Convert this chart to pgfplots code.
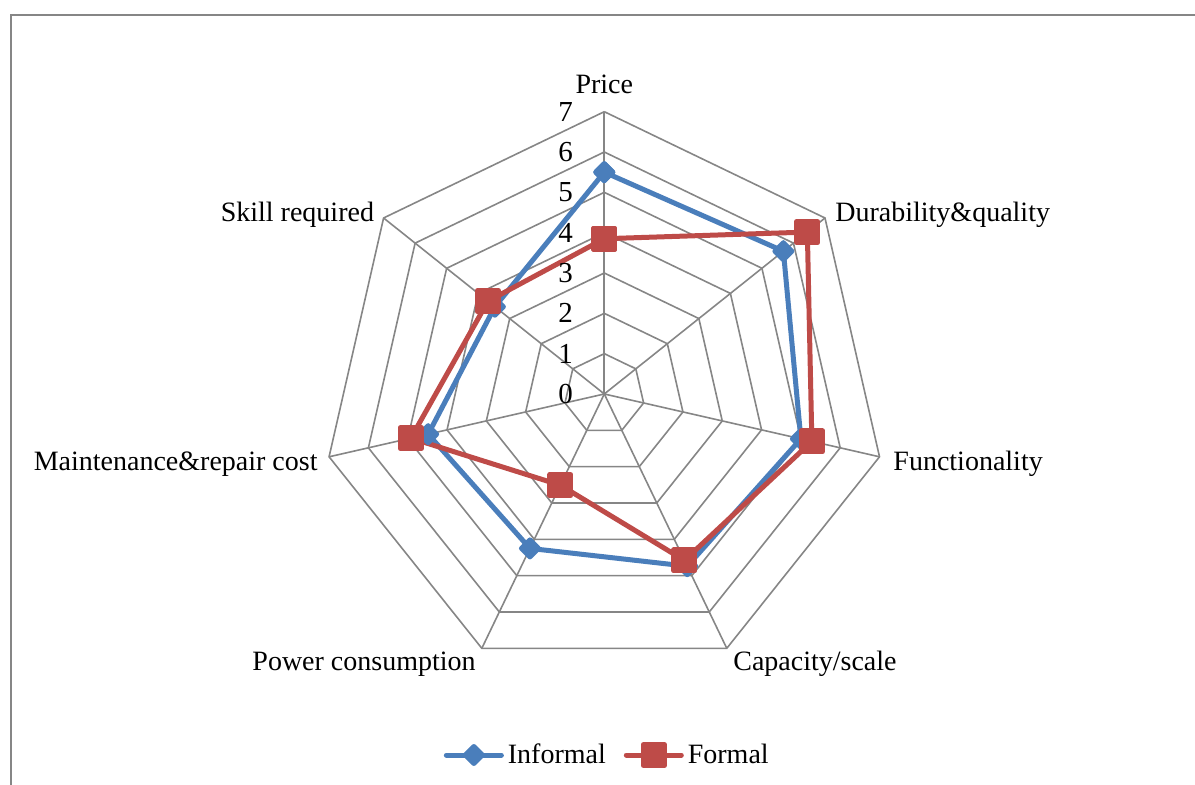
\documentclass[border=0pt]{standalone}
\usepackage{fontspec}
\setmainfont{Liberation Serif}
\usepackage{pgfplots}
\pgfplotsset{compat=1.18}
\definecolor{infc}{RGB}{74,126,187}
\definecolor{forc}{RGB}{190,75,72}
\definecolor{gridc}{RGB}{134,134,134}
\newcommand{\lf}{\fontsize{14}{17}\selectfont}
\begin{document}
\begin{tikzpicture}
\begin{axis}[
  x=20.164pt, y=20.164pt,
  xmin=-7.5, xmax=7.5, ymin=-7.5, ymax=7.5,
  hide axis, clip=false,
  legend columns=2,
  legend style={draw=none, fill=none, font=\lf, at={(axis description cs:0.5066,-0.0968)}, anchor=center,
    /tikz/every even column/.append style={column sep=7pt}},
  legend image code/.code={\draw[mark repeat=2, mark phase=2] plot coordinates {(0pt,0pt) (13.75pt,0pt) (27.5pt,0pt)};},
]
\pgfplotsinvokeforeach{1,...,7}{
  \addplot[gridc, line width=0.8pt, data cs=polar, forget plot, mark=none]
    coordinates {(90,#1) (38.571,#1) (-12.857,#1) (-64.286,#1) (-115.714,#1) (-167.143,#1) (-218.571,#1) (90,#1)};
}
\pgfplotsinvokeforeach{90,38.571,-12.857,-64.286,-115.714,-167.143,-218.571}{
  \addplot[gridc, line width=0.8pt, data cs=polar, forget plot, mark=none]
    coordinates {(#1,0) (#1,7)};
}
\addplot[infc, line width=2.5pt, line join=round, line cap=round, mark=square*, mark size=3pt,
  mark options={rotate=45, solid, fill=infc}, data cs=polar]
  coordinates {(90,5.5) (38.571,5.68) (-12.857,5.0) (-64.286,4.74) (-115.714,4.25) (-167.143,4.48) (-218.571,3.47) (90,5.5)};
\addlegendentry{Informal}
\addplot[forc, line width=2.5pt, line join=round, line cap=round, mark=square*, mark size=5.25pt,
  mark options={solid, fill=forc}, data cs=polar]
  coordinates {(90,3.85) (38.571,6.44) (-12.857,5.28) (-64.286,4.58) (-115.714,2.51) (-167.143,4.92) (-218.571,3.69) (90,3.85)};
\addlegendentry{Formal}
\pgfplotsinvokeforeach{0,...,7}{
  \node[anchor=east, inner sep=0pt, font=\fontsize{14.5}{17}\selectfont] at (axis cs:-0.77,#1) {#1};
}
\node[anchor=center, inner sep=0pt, font=\lf] at (axis cs:0,7.67) {Price};
\node[anchor=west, inner sep=0pt, font=\lf] at (axis cs:5.72,4.44) {Durability\&quality};
\node[anchor=west, inner sep=0pt, font=\lf] at (axis cs:7.16,-1.73) {Functionality};
\node[anchor=west, inner sep=0pt, font=\lf] at (axis cs:3.19,-6.69) {Capacity/scale};
\node[anchor=east, inner sep=0pt, font=\lf] at (axis cs:-3.18,-6.69) {Power consumption};
\node[anchor=east, inner sep=0pt, font=\lf] at (axis cs:-7.10,-1.73) {Maintenance\&repair cost};
\node[anchor=east, inner sep=0pt, font=\lf] at (axis cs:-5.70,4.44) {Skill required};
\coordinate (C) at (axis cs:0,0);
\end{axis}
\draw[gridc, line width=1pt] ([shift={(-296.65pt,-200pt)}]C) -- ([shift={(-296.65pt,189.5pt)}]C) -- ([shift={(300pt,189.5pt)}]C);
\pgfresetboundingbox
\path[use as bounding box] ([shift={(-302.15pt,197pt)}]C) rectangle ([shift={(295.35pt,-195.5pt)}]C);
\end{tikzpicture}
\end{document}
